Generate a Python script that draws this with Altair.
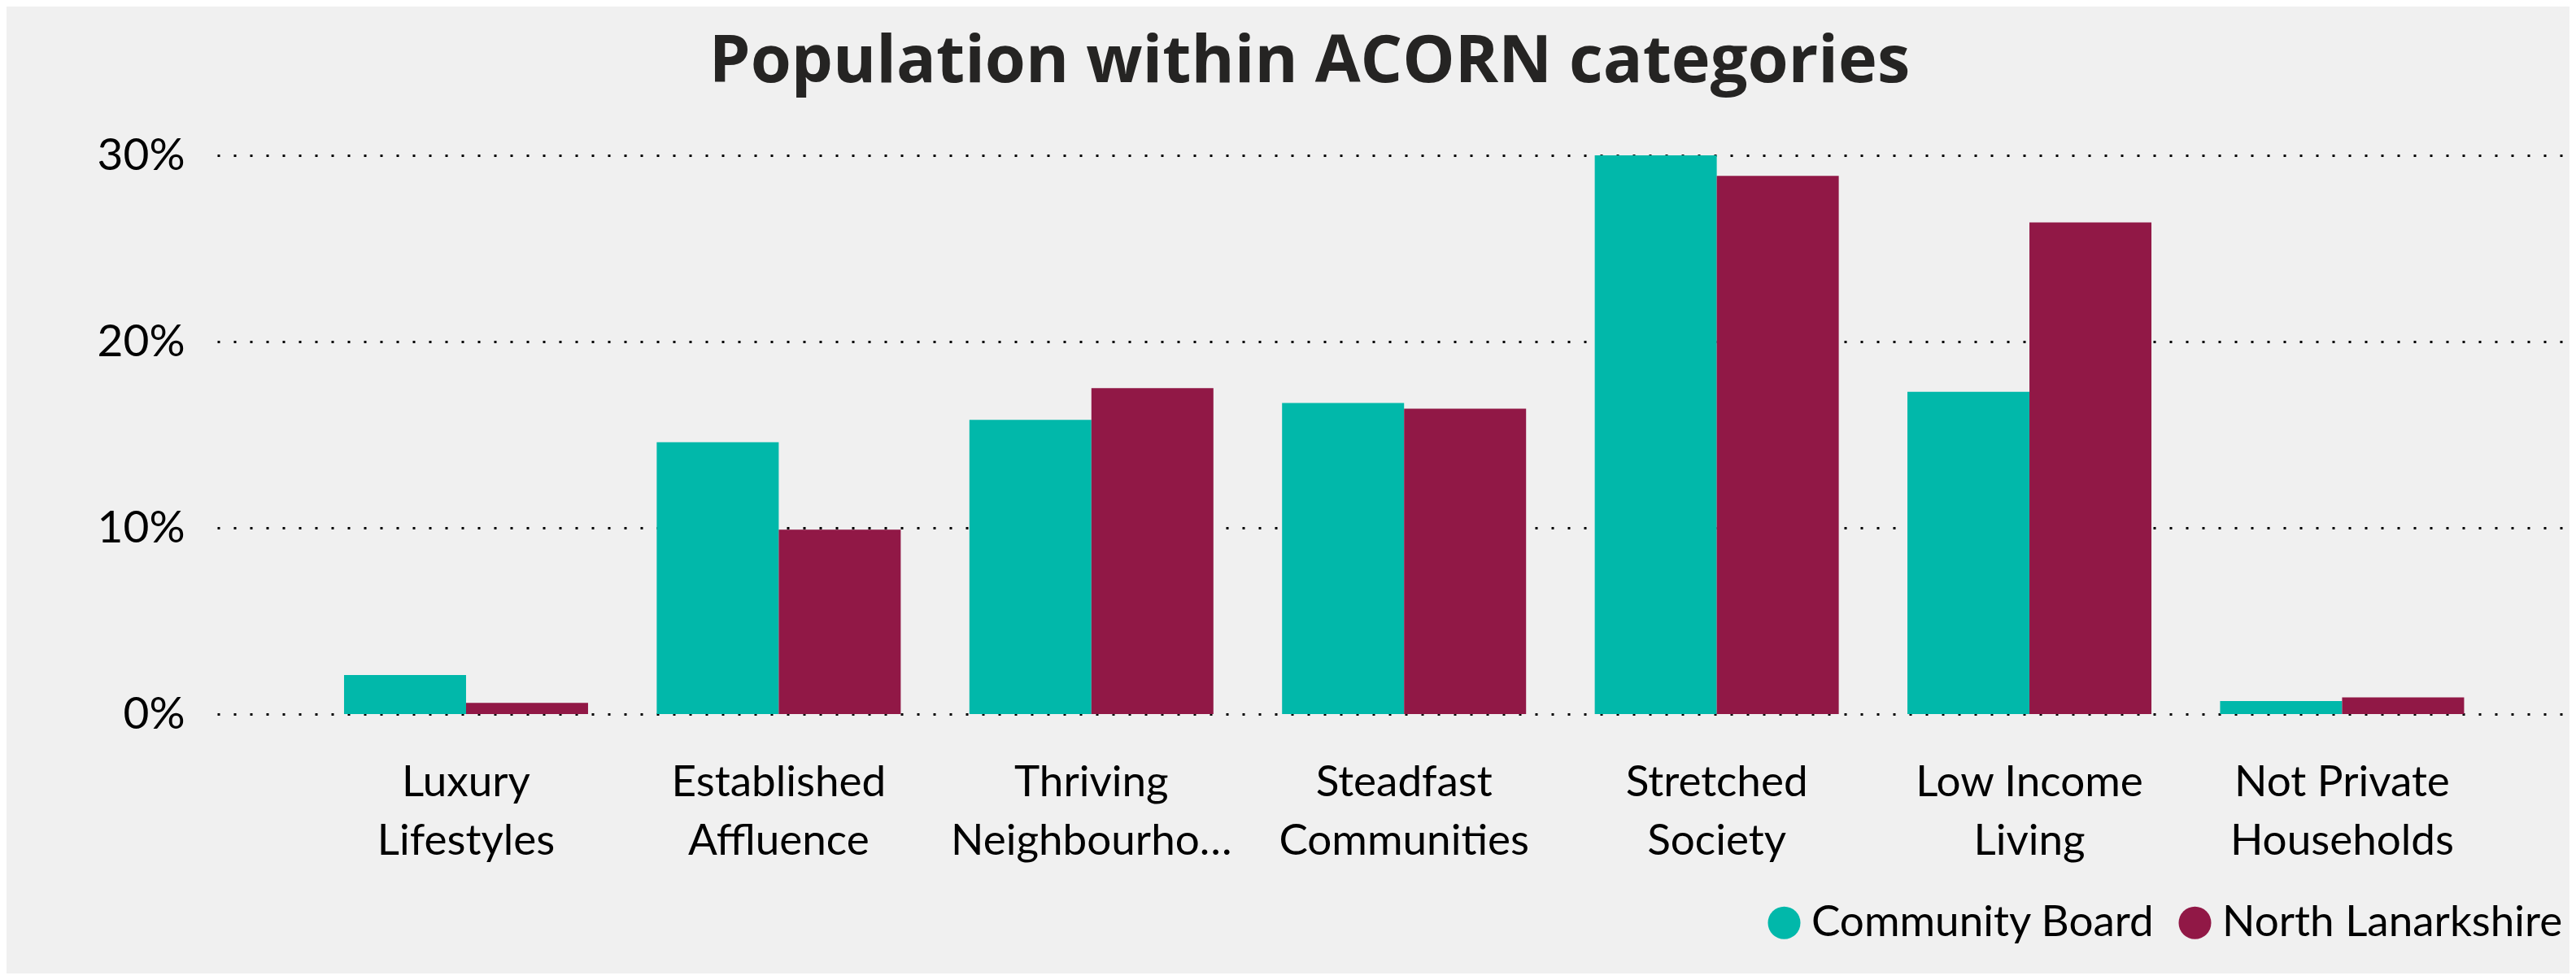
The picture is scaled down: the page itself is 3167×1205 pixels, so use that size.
import altair as alt
import pandas as pd

categories = [
    "Luxury Lifestyles",
    "Established Affluence",
    "Thriving Neighbourhoods",
    "Steadfast Communities",
    "Stretched Society",
    "Low Income Living",
    "Not Private Households",
]
tick_labels = [
    ["Luxury", "Lifestyles"],
    ["Established", "Affluence"],
    ["Thriving", "Neighbourhoods"],
    ["Steadfast", "Communities"],
    ["Stretched", "Society"],
    ["Low Income", "Living"],
    ["Not Private", "Households"],
]
series = ["Community Board", "North Lanarkshire"]
community_board = [2.1, 14.6, 15.8, 16.7, 30.0, 17.3, 0.7]
north_lanarkshire = [0.6, 9.9, 17.5, 16.4, 28.9, 26.4, 0.9]
colors = ["#01B8AA", "#911846"]
y_ticks = [0, 10, 20, 30]

rows = []
for i, c in enumerate(categories):
    rows.append({"category": c, "series": series[0], "value": community_board[i]})
    rows.append({"category": c, "series": series[1], "value": north_lanarkshire[i]})
df = pd.DataFrame(rows)

label_expr = ""
for c, t in zip(categories, tick_labels):
    arr = "[" + ",".join("'" + s + "'" for s in t) + "]"
    label_expr += f"datum.value == '{c}' ? {arr} : "
label_expr += "datum.label"

FONT = "Lato"

chart = (
    alt.Chart(df)
    .mark_bar()
    .encode(
        x=alt.X(
            "category:N",
            sort=categories,
            scale=alt.Scale(paddingInner=0.2196, paddingOuter=0.361, align=0.562),
            axis=alt.Axis(
                title=None,
                labelAngle=0,
                labelExpr=label_expr,
                labelFont=FONT,
                labelFontSize=53,
                labelLineHeight=72,
                labelColor="#000000",
                labelPadding=58,
                labelLimit=350,
                ticks=False,
                tickSize=0,
                domain=False,
                grid=False,
            ),
        ),
        xOffset=alt.XOffset(
            "series:N", sort=series, scale=alt.Scale(paddingInner=0, paddingOuter=0)
        ),
        y=alt.Y(
            "value:Q",
            scale=alt.Scale(domain=[0, 30]),
            axis=alt.Axis(
                title=None,
                values=y_ticks,
                labelExpr="datum.value + '%'",
                labelFont=FONT,
                labelFontSize=55,
                labelColor="#000000",
                labelPadding=40,
                ticks=False,
                tickSize=0,
                domain=False,
                grid=True,
                gridColor="#000000",
                gridDash=[3, 17],
                gridWidth=3,
            ),
        ),
        color=alt.Color(
            "series:N",
            sort=series,
            scale=alt.Scale(domain=series, range=colors),
            legend=alt.Legend(
                title=None,
                orient="none",
                legendX=1900,
                legendY=917,
                direction="horizontal",
                symbolType="circle",
                symbolSize=1600,
                symbolStrokeWidth=0,
                symbolOpacity=1,
                labelFont=FONT,
                labelFontSize=53,
                labelColor="#000000",
                labelOffset=7,
                labelLimit=1000,
                columnPadding=22,
                padding=0,
            ),
        ),
    )
    .properties(
        width=2884,
        height=687,
        background="#F0F0F0",
        padding={"left": 259, "top": 183, "right": 8, "bottom": 319},
        autosize="none",
        title=alt.Title(
            "Population within ACORN categories",
            font="Open Sans",
            fontSize=81,
            fontWeight="bold",
            color="#252423",
            anchor="middle",
            dx=-99,
            offset=46,
        ),
    )
    .configure_view(strokeWidth=0)
)

chart.save("out.html", embed_options={"renderer": "svg", "actions": False})
